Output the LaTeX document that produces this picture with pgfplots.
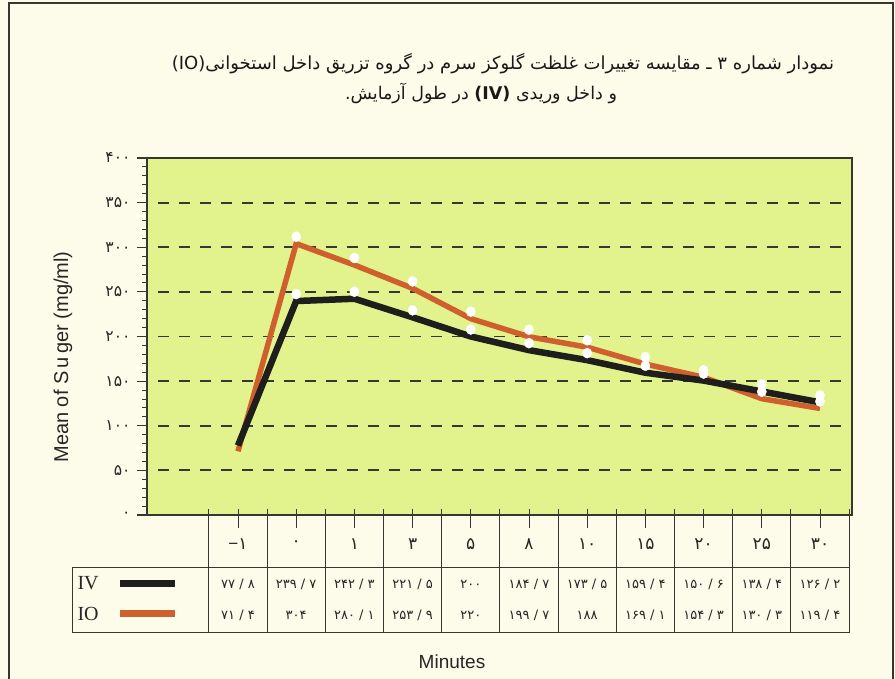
\documentclass[border=0pt]{standalone}
\usepackage{fontspec}
\usepackage{pgfplots}
\usepackage{pgfplotstable}
\pgfplotsset{compat=1.18}
\setmainfont{Liberation Sans}
\newfontfamily\fa[Script=Arabic]{DejaVu Sans}
\newfontfamily\lat{Liberation Serif}
\TeXXeTstate=1

\definecolor{paper}{RGB}{253,251,234}
\definecolor{plotbg}{RGB}{226,242,140}
\definecolor{ioline}{RGB}{207,95,44}
\definecolor{ivline}{RGB}{30,30,28}
\definecolor{rule}{RGB}{55,55,50}

% mean serum glucose (mg/ml) per sampling time; idx = column of the table
\pgfplotstableread{
idx  minute  iv     io
0    -1      77.8   71.4
1    0       239.7  304
2    1       242.3  280.1
3    3       221.5  253.9
4    5       200    220
5    8       184.7  199.7
6    10      173.5  188
7    15      159.4  169.1
8    20      150.6  154.3
9    25      138.4  130.3
10   30      126.2  119.4
}\sugar

\begin{document}
\begin{tikzpicture}[x=1pt,y=1pt]
\useasboundingbox (0pt,0pt) rectangle (895pt,679pt);
\fill[paper] (0pt,0pt) rectangle (895pt,679pt);

\begin{axis}[
  at={(147pt,164pt)}, anchor=south west,
  scale only axis, width=705pt, height=357pt,
  xmin=-1.5636, xmax=10.55, ymin=0, ymax=400,
  axis background/.style={fill=plotbg},
  axis line style={rule, line width=1.6pt},
  xtick=\empty,
  ytick={0,50,...,400},
  yticklabels={۰,۵۰,۱۰۰,۱۵۰,۲۰۰,۲۵۰,۳۰۰,۳۵۰,۴۰۰},
  yticklabel style={font=\fa\fontsize{15.5}{15.5}\selectfont, text=black!85, xshift=-3pt},
  ytick pos=left,
  minor y tick num=4,
  tick align=outside,
  major tick length=10pt,
  minor tick length=5pt,
  major tick style={rule, line width=1.2pt},
  minor tick style={rule, line width=0.9pt},
  clip=false,
]
% dashed reference levels
\pgfplotsinvokeforeach{50,100,150,200,250,300,350}{
  \draw[rule, line width=1.8pt, dash pattern=on 11pt off 10pt]
    (axis cs:-1.375,#1) -- (axis cs:10.55,#1);
}
\addplot[ioline, line width=5.5pt, line join=miter, miter limit=20]
  table[x=idx, y=io]{\sugar};
\addplot[ivline, line width=6.5pt, line join=miter, miter limit=20]
  table[x=idx, y=iv]{\sugar};
\addplot[white, only marks, mark=*, mark size=4.6pt,
  mark options={fill=white, draw=white, yshift=7pt, yscale=1.1},
  mark indices={2,3,4,5,6,7,8,9,10,11}]
  table[x=idx, y=io]{\sugar};
\addplot[white, only marks, mark=*, mark size=4.6pt,
  mark options={fill=white, draw=white, yshift=7pt, yscale=1.1},
  mark indices={2,3,4,5,6,7,8,9,10,11}]
  table[x=idx, y=iv]{\sugar};
\end{axis}

\begin{scope}[shift={(0,679)}, yscale=-1]
% page frame
\draw[rule, line width=1.2pt] (9,679) -- (9,3) -- (893,3) -- (893,679);

% title
\node[font=\fa\fontsize{18}{20}\selectfont, text=black!90] at (503,64)
  {\beginR نمودار شماره ۳ ـ مقایسه تغییرات غلظت گلوکز سرم در گروه تزریق داخل استخوانی\beginL(IO)\endL\endR};
\node[font=\fa\fontsize{17.5}{20}\selectfont, text=black!90] at (481,93)
  {\beginR و داخل وریدی \beginL{\bfseries(IV)}\endL{} در طول آزمایش.\endR};

% axis titles
\node[rotate=90, font=\fontsize{20}{20}\selectfont, text=black!85] at (63,357)
  {Mean of S\,u\,ger (mg/ml)};
\node[font=\fontsize{19}{19}\selectfont, text=black!85] at (452,662) {Minutes};

% small ticks along the bottom of the plot
\foreach \k in {0,...,22}
  \draw[rule, line width=1pt] ({208.9+29.1*\k},515) -- ({208.9+29.1*\k},509);

% table grid
\foreach \k in {0,...,11}
  \draw[rule, line width=1pt] ({208.9+58.2*\k},515) -- ({208.9+58.2*\k},633);
\draw[rule, line width=1pt] (72,568) -- (849.1,568);
\draw[rule, line width=1pt] (72,633) -- (849.1,633);
\draw[rule, line width=1pt] (72,568) -- (72,633);
\foreach \k in {0,...,10}
  \draw[rule, line width=1pt] ({238+58.2*\k},515) -- ({238+58.2*\k},528);

% time header
\foreach \lab [count=\i from 0] in {{−{\fa ۱}},{\fa ۰},{\fa ۱},{\fa ۳},{\fa ۵},{\fa ۸},{\fa ۱۰},{\fa ۱۵},{\fa ۲۰},{\fa ۲۵},{\fa ۳۰}}
  \node[font=\fontsize{17}{17}\selectfont, text=black!85] at ({238+58.2*\i},544) {\lab};

% IV row
\foreach \v [count=\i from 0] in {۷۷ / ۸,۲۳۹ / ۷,۲۴۲ / ۳,۲۲۱ / ۵,۲۰۰,۱۸۴ / ۷,۱۷۳ / ۵,۱۵۹ / ۴,۱۵۰ / ۶,۱۳۸ / ۴,۱۲۶ / ۲}
  \node[font=\fa\fontsize{13}{13}\selectfont, text=black!85] at ({238+58.2*\i},584) {\v};
% IO row
\foreach \v [count=\i from 0] in {۷۱ / ۴,۳۰۴,۲۸۰ / ۱,۲۵۳ / ۹,۲۲۰,۱۹۹ / ۷,۱۸۸,۱۶۹ / ۱,۱۵۴ / ۳,۱۳۰ / ۳,۱۱۹ / ۴}
  \node[font=\fa\fontsize{13}{13}\selectfont, text=black!85] at ({238+58.2*\i},615) {\v};

% series keys
\node[anchor=west, font=\lat\fontsize{20}{20}\selectfont, text=black!85] at (74,583) {IV};
\node[anchor=west, font=\lat\fontsize{20}{20}\selectfont, text=black!85] at (74,614) {IO};
\fill[ivline] (120,580.5) rectangle (175,587.5);
\fill[ioline] (120,610.5) rectangle (175,617.5);
\end{scope}
\end{tikzpicture}
\end{document}
